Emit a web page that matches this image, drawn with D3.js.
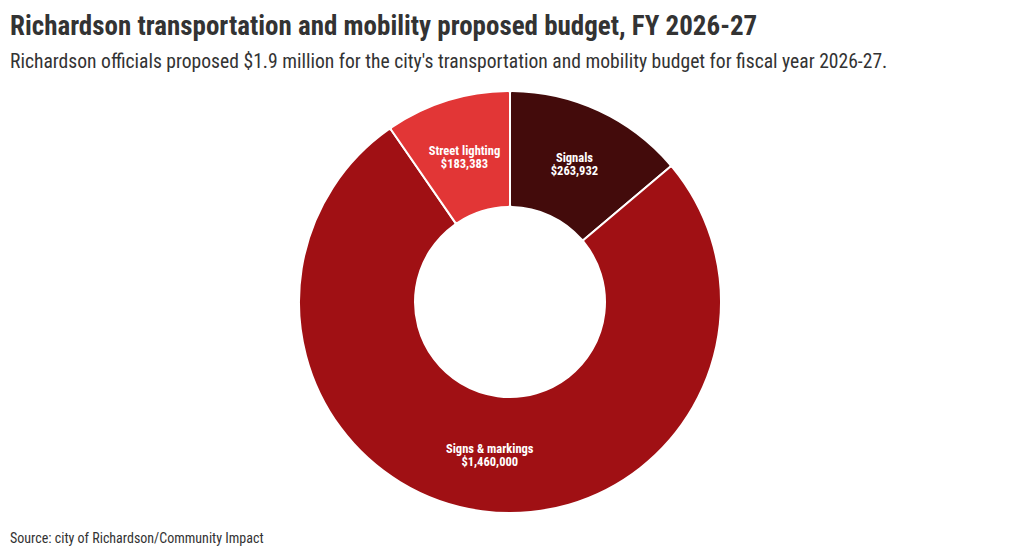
<!DOCTYPE html>
<html>
<head>
<meta charset="utf-8">
<script src="https://cdn.jsdelivr.net/npm/d3@7.9.0/dist/d3.min.js"></script>
<style>
  body { margin: 0; background: #fff; }
  svg text { font-family: "Roboto Condensed", "Roboto", "Liberation Sans Narrow", sans-serif; font-stretch: condensed; }
</style>
</head>
<body>
<div id="chart"></div>
<script>
// === Data ===
const categories = ["Signals", "Signs & markings", "Street lighting"];
const amounts = [263932, 1460000, 183383];
const colors = ["#430b0b", "#a01014", "#e23636"];

const title = "Richardson transportation and mobility proposed budget, FY 2026-27";
const subtitle = "Richardson officials proposed $1.9 million for the city's transportation and mobility budget for fiscal year 2026-27.";
const source = "Source: city of Richardson/Community Impact";

// === Layout ===
const width = 1020, height = 556;
const cx = 510, cy = 302;
const outerR = 211, innerR = 95;

const svg = d3.select("#chart").append("svg")
    .attr("width", width)
    .attr("height", height);

svg.append("text")
    .attr("x", 10).attr("y", 35)
    .attr("font-size", 27).attr("font-weight", 700)
    .attr("fill", "#333")
    .text(title);

svg.append("text")
    .attr("x", 10).attr("y", 68)
    .attr("font-size", 19.6)
    .attr("fill", "#333")
    .text(subtitle);

svg.append("text")
    .attr("x", 10).attr("y", 543)
    .attr("font-size", 14)
    .attr("fill", "#333")
    .text(source);

// === Donut ===
const data = categories.map((c, i) => ({ name: c, value: amounts[i], color: colors[i] }));

const pie = d3.pie().value(d => d.value).sort(null);
const arc = d3.arc().innerRadius(innerR).outerRadius(outerR).cornerRadius(2);
const labelArc = d3.arc().innerRadius((innerR + outerR) / 2).outerRadius((innerR + outerR) / 2);

const g = svg.append("g").attr("transform", `translate(${cx},${cy})`);

const arcs = pie(data);

g.selectAll("path")
    .data(arcs)
    .join("path")
    .attr("d", arc)
    .attr("fill", d => d.data.color)
    .attr("stroke", "#fff")
    .attr("stroke-width", 2);

const fmt = d3.format("$,");

// two-line labels at the middle of each slice
const labels = g.selectAll("g.lbl")
    .data(arcs)
    .join("g")
    .attr("class", "lbl")
    .attr("transform", d => `translate(${labelArc.centroid(d)})`);

labels.append("text")
    .attr("y", -1)
    .attr("text-anchor", "middle")
    .attr("font-size", 12.5)
    .attr("font-weight", 700)
    .attr("fill", "#fff")
    .text(d => d.data.name);

labels.append("text")
    .attr("y", 12)
    .attr("text-anchor", "middle")
    .attr("font-size", 12.5)
    .attr("font-weight", 700)
    .attr("fill", "#fff")
    .text(d => fmt(d.data.value));
</script>
</body>
</html>
